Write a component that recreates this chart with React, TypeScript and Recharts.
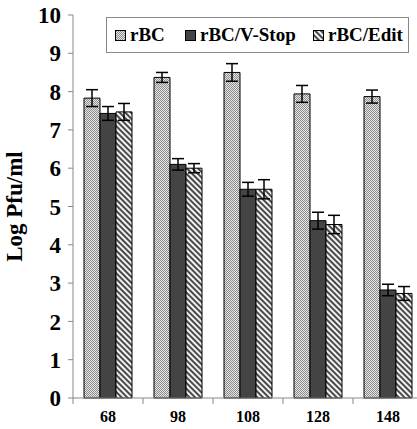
import { BarChart, Bar, XAxis, YAxis, ErrorBar } from "recharts";

const categories = ["68", "98", "108", "128", "148"];
const rbc = [7.83, 8.37, 8.5, 7.94, 7.87];
const rbcErr = [0.22, 0.13, 0.23, 0.22, 0.17];
const vStop = [7.43, 6.1, 5.45, 4.63, 2.82];
const vStopErr = [0.18, 0.15, 0.18, 0.22, 0.15];
const edit = [7.47, 6.0, 5.45, 4.53, 2.73];
const editErr = [0.22, 0.12, 0.25, 0.24, 0.18];
const yTicks = [0, 1, 2, 3, 4, 5, 6, 7, 8, 9, 10];

const data = categories.map((name, i) => ({
  name,
  rbc: rbc[i],
  rbcErr: rbcErr[i],
  vStop: vStop[i],
  vStopErr: vStopErr[i],
  edit: edit[i],
  editErr: editErr[i],
}));

const FONT = '"Liberation Serif", "Times New Roman", serif';

const series = [
  { key: "rbc", err: "rbcErr", label: "rBC", fill: "url(#checker)", left: 8 },
  { key: "vStop", err: "vStopErr", label: "rBC/V-Stop", fill: "#444444", left: 78 },
  { key: "edit", err: "editErr", label: "rBC/Edit", fill: "url(#stripes)", left: 206 },
];

const Patterns = () => (
  <defs>
    <pattern id="checker" width="2" height="2" patternUnits="userSpaceOnUse">
      <rect width="2" height="2" fill="#e6e6e6" />
      <rect width="1" height="1" fill="#8c8c8c" />
      <rect x="1" y="1" width="1" height="1" fill="#8c8c8c" />
    </pattern>
    <pattern
      id="stripes"
      width="4"
      height="4"
      patternUnits="userSpaceOnUse"
      patternTransform="rotate(-45)"
    >
      <rect width="4" height="4" fill="#f2f2f2" />
      <rect width="2" height="4" fill="#4a4a4a" />
    </pattern>
  </defs>
);

// legend box drawn over the plot, top right
const LegendBox = () => (
  <div
    style={{
      position: "absolute",
      left: 106,
      top: 17,
      width: 301,
      height: 34,
      border: "1px solid #888",
      background: "#fff",
      fontFamily: FONT,
      fontWeight: "bold",
      fontSize: 19,
    }}
  >
    {series.map((s) => (
      <span
        key={s.key}
        style={{
          position: "absolute",
          left: s.left,
          top: 0,
          height: 34,
          display: "flex",
          alignItems: "center",
          gap: 4,
          whiteSpace: "nowrap",
        }}
      >
        <svg width={11} height={11}>
          <rect x={0.5} y={0.5} width={10} height={10} fill={s.fill} stroke="#000" />
        </svg>
        {s.label}
      </span>
    ))}
  </div>
);

const XTick = (props: any) => {
  const { x, y, payload } = props;
  const half = payload && payload.offset ? payload.offset : 35;
  const axisY = y - 8;
  return (
    <g>
      <line x1={x - half} y1={axisY} x2={x - half} y2={axisY + 6} stroke="#888" />
      {payload.index === categories.length - 1 && (
        <line x1={x + half} y1={axisY} x2={x + half} y2={axisY + 6} stroke="#888" />
      )}
      <text
        x={x}
        y={axisY + 24}
        textAnchor="middle"
        fontFamily={FONT}
        fontWeight="bold"
        fontSize={16}
        fill="#000"
      >
        {payload.value}
      </text>
    </g>
  );
};

export default function App() {
  return (
    <div
      style={{
        position: "fixed",
        left: 0,
        top: 0,
        width: 417,
        height: 429,
        overflow: "hidden",
        background: "#fff",
      }}
    >
      <svg width={0} height={0} style={{ position: "absolute" }}>
        <Patterns />
      </svg>
      <BarChart
        width={430}
        height={470}
        data={data}
        margin={{ top: 15, right: 7, left: 0, bottom: 0 }}
        barCategoryGap={11}
        barGap={0}
      >
        <XAxis
          dataKey="name"
          tickLine={false}
          axisLine={{ stroke: "#888" }}
          tick={<XTick />}
          height={72}
          interval={0}
        />
        <YAxis
          domain={[0, 10]}
          ticks={yTicks}
          interval={0}
          width={73}
          tickSize={5}
          tickMargin={7}
          axisLine={{ stroke: "#888" }}
          tickLine={{ stroke: "#888" }}
          tick={{ fontFamily: FONT, fontWeight: "bold", fontSize: 23, fill: "#000" }}
          label={{
            value: "Log Pfu/ml",
            angle: -90,
            position: "insideLeft",
            offset: 14,
            style: {
              fontFamily: FONT,
              fontWeight: "bold",
              fontSize: 23,
              fill: "#000",
              textAnchor: "middle",
            },
          }}
        />
        {series.map((s) => (
          <Bar
            key={s.key}
            dataKey={s.key}
            name={s.label}
            fill={s.fill}
            stroke="#000"
            strokeWidth={1}
            isAnimationActive={false}
          >
            <ErrorBar dataKey={s.err} width={6} stroke="#000" strokeWidth={1.5} direction="y" />
          </Bar>
        ))}
      </BarChart>
      <LegendBox />
    </div>
  );
}
